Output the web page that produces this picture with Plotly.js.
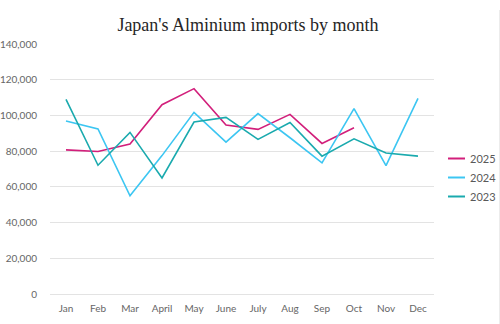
<!DOCTYPE html>
<html>
<head>
<meta charset="utf-8">
<script src="https://cdn.plot.ly/plotly-3.0.1.min.js"></script>
<style>
html,body{margin:0;padding:0;background:#fff;}
#chart{width:500px;height:324px;}
#edge{position:absolute;left:499px;top:10px;width:1px;height:314px;background:#ececec;}
</style>
</head>
<body>
<div id="chart"></div>
<div id="edge"></div>
<script>
const months = ["Jan","Feb","Mar","April","May","June","July","Aug","Sep","Oct","Nov","Dec"];
const y2025 = [80700, 79800, 84000, 106000, 115000, 94600, 92200, 100600, 84300, 93100];
const y2024 = [96900, 92400, 55000, 77500, 101700, 85000, 101000, 87500, 73400, 103800, 71900, 109500];
const y2023 = [109000, 72100, 90500, 65000, 96300, 98900, 86600, 96000, 77200, 86900, 79000, 77200];
const seriesNames = ["2025", "2024", "2023"];
const seriesColors = ["#D21F7B", "#3CC6F2", "#1AAAAE"];

const seriesData = [y2025, y2024, y2023];
const traces = seriesData.map((ys, i) => ({
  x: months.slice(0, ys.length), y: ys, name: seriesNames[i], type: "scatter", mode: "lines",
  line: {color: seriesColors[i], width: 1.6}, showlegend: false
}));

// custom legend (short line samples like the original)
const legX0 = 1.0365, legX1 = 1.0807, legTextX = 1.088;
const legY = [0.542, 0.466, 0.39];
const shapes = seriesNames.map((n, i) => ({
  type: "line", xref: "paper", yref: "paper", x0: legX0, x1: legX1, y0: legY[i], y1: legY[i],
  line: {color: seriesColors[i], width: 2}
}));
const annotations = seriesNames.map((n, i) => ({
  text: n, xref: "paper", yref: "paper", x: legTextX, y: legY[i], xanchor: "left", yanchor: "middle",
  showarrow: false, font: {family: "Lato, sans-serif", size: 11, color: "#595959"}
}));

const layout = {
  width: 500, height: 324,
  margin: {l: 50, r: 66, t: 44, b: 30, pad: 0, autoexpand: false},
  paper_bgcolor: "#fff", plot_bgcolor: "#fff",
  title: {text: "Japan's Alminium imports by month", x: 0.496, xanchor: "center", y: 0.923, yanchor: "middle",
          font: {family: "Liberation Serif, serif", size: 18, color: "#262626"}},
  font: {family: "Lato, sans-serif", size: 10, color: "#595959"},
  xaxis: {type: "category", range: [-0.5, 11.5], showgrid: false, zeroline: false,
          showline: false, ticks: "", ticklabelstandoff: 7, fixedrange: true,
          tickfont: {family: "Lato, sans-serif", size: 10, color: "#666666"}},
  yaxis: {range: [0, 140000], dtick: 20000, tickformat: ",d", showgrid: true,
          gridcolor: "#e3e3e3", gridwidth: 1, zeroline: true, zerolinecolor: "#e3e3e3", zerolinewidth: 1,
          showline: false, ticks: "", ticklabelstandoff: 12,
          tickfont: {family: "Lato, sans-serif", size: 10, color: "#666666"}},
  showlegend: false,
  shapes: shapes,
  annotations: annotations
};

Plotly.newPlot("chart", traces, layout, {displayModeBar: false, staticPlot: true});
</script>
</body>
</html>
